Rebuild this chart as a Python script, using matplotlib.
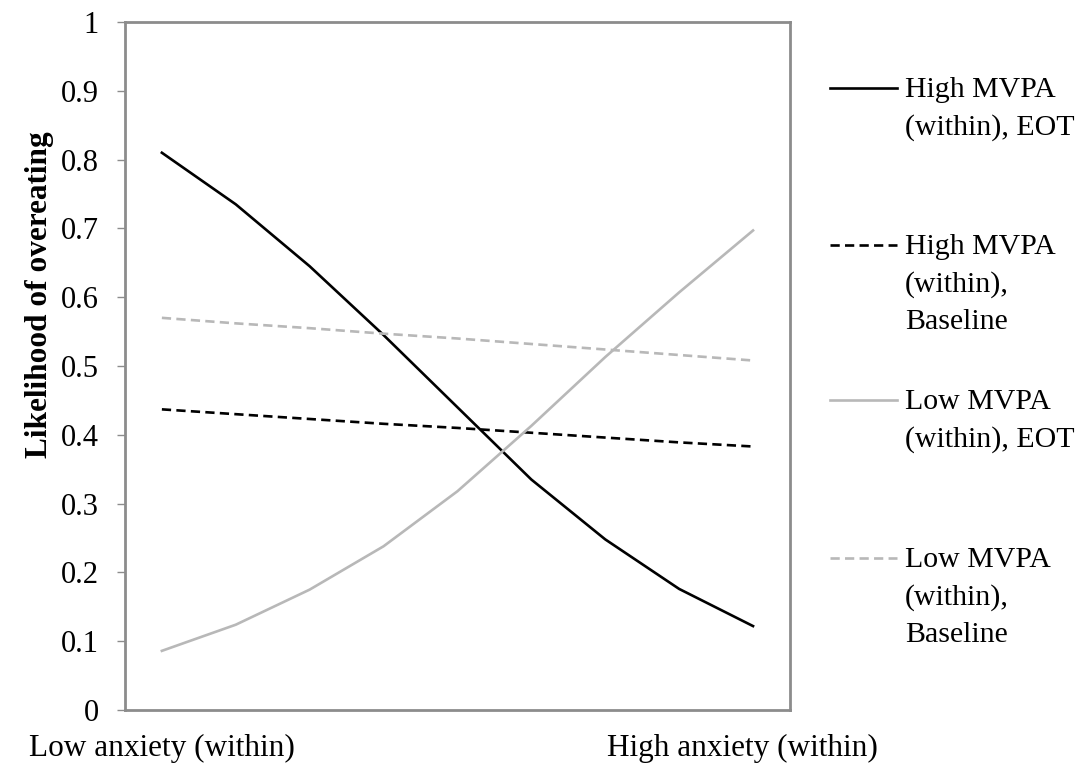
import matplotlib.pyplot as plt
import matplotlib.transforms as mtransforms
from matplotlib.lines import Line2D
import numpy as np

plt.rcParams['font.family'] = ['Liberation Serif', 'DejaVu Serif']

# anxiety levels from low to high (9 steps)
steps = np.arange(9)
x_labels = ['Low anxiety (within)', 'High anxiety (within)']

high_eot = [0.810, 0.735, 0.645, 0.545, 0.440, 0.335, 0.248, 0.176, 0.122]
high_base = [0.437, 0.430, 0.423, 0.416, 0.410, 0.403, 0.396, 0.389, 0.383]
low_eot = [0.086, 0.124, 0.175, 0.238, 0.318, 0.413, 0.513, 0.607, 0.697]
low_base = [0.570, 0.562, 0.555, 0.547, 0.540, 0.532, 0.524, 0.516, 0.508]

labels = ['High MVPA\n(within), EOT',
          'High MVPA\n(within),\nBaseline',
          'Low MVPA\n(within), EOT',
          'Low MVPA\n(within),\nBaseline']

black = '#000000'
gray = '#b8b8b8'
styles = [(black, '-'), (black, (0, (3.5, 2))), (gray, '-'), (gray, (0, (3.5, 2)))]

fig = plt.figure(figsize=(10.77, 7.67), dpi=100)
ax = fig.add_axes([0.116, 0.0743, 0.6175, 0.897])

for series, (col, ls) in zip([high_eot, high_base, low_eot, low_base], styles):
    ax.plot(steps, series, color=col, linestyle=ls, linewidth=1.9)

ax.set_xlim(-0.5, 8.5)
ax.set_ylim(0, 1)
ax.set_yticks(np.arange(0, 1.01, 0.1))
ax.set_yticklabels(['0'] + [f'{v:.1f}' for v in np.arange(0.1, 0.95, 0.1)] + ['1'])
ax.set_xticks([0, 8])
ax.set_xticklabels(x_labels)

for s in ax.spines.values():
    s.set_color('#8c8c8c')
    s.set_linewidth(2)
ax.tick_params(axis='y', length=6, width=1, color='#8c8c8c', labelsize=22, pad=13)
ax.tick_params(axis='x', length=0, labelsize=22.5, pad=17)

# the right-hand label sits a little left of its category in the original
hi_lab = ax.get_xticklabels()[1]
hi_lab.set_transform(hi_lab.get_transform() +
                     mtransforms.ScaledTranslation(-11 / 100, 0, fig.dpi_scale_trans))

ax.set_ylabel('Likelihood of overeating', fontsize=22.5, fontweight='bold')
ax.yaxis.set_label_coords(-0.106, 0.603)

# legend drawn at the right, key aligned with first text line
leg_y = [0.885, 0.680, 0.478, 0.272]
for (col, ls), lab, y in zip(styles, labels, leg_y):
    fig.add_artist(Line2D([0.771, 0.833], [y, y], color=col, linestyle=ls,
                          linewidth=1.9, transform=fig.transFigure))
    fig.text(0.840, y + 0.015, lab, fontsize=21.5, va='top', ha='left',
             linespacing=1.55)

fig.savefig('out.png', dpi=100)
